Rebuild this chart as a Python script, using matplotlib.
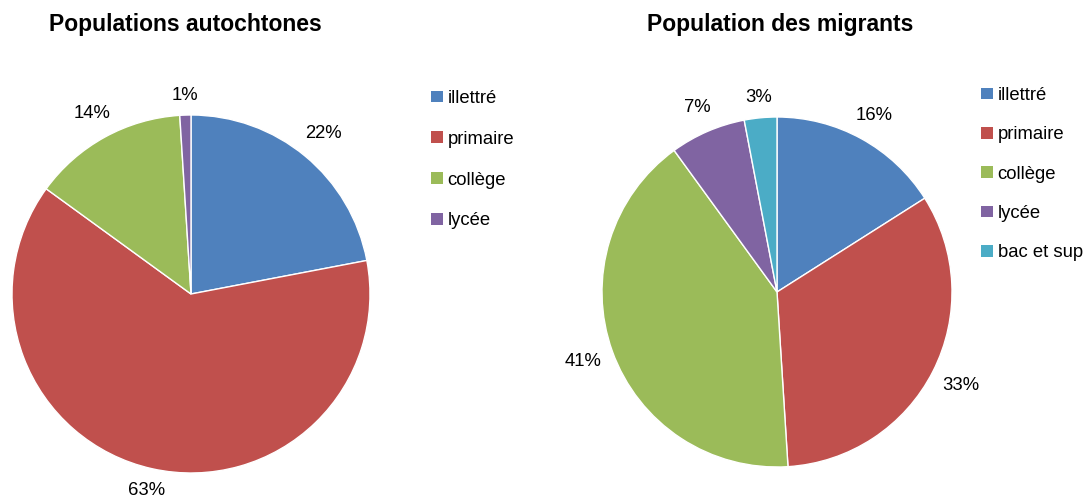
import numpy as np
import matplotlib
matplotlib.use('Agg')
import matplotlib.pyplot as plt
from matplotlib.patches import Patch

plt.rcParams['font.family'] = ['Liberation Sans', 'DejaVu Sans']

COLORS = ['#4F81BD', '#C0504D', '#9BBB59', '#8064A2', '#4BACC6']

# data
auto_labels = ['illettré', 'primaire', 'collège', 'lycée']
auto_values = [22, 63, 14, 1]
migr_labels = ['illettré', 'primaire', 'collège', 'lycée', 'bac et sup']
migr_values = [16, 33, 41, 7, 3]

W, H = 1083, 496
fig = plt.figure(figsize=(W / 100, H / 100), dpi=100)


def pie_axes(cx, cy, r):
    # cx, cy, r in pixels (y from top)
    return fig.add_axes([(cx - r) / W, (H - cy - r) / H, 2 * r / W, 2 * r / H])


def draw(ax, r_px, values, labels, title, title_xy, leg_xy, leg_space):
    wedges, _, autotexts = ax.pie(values, colors=COLORS[:len(values)], startangle=90,
                                  counterclock=False, autopct='%1.0f%%', radius=1,
                                  textprops={'fontsize': 13.3, 'color': '#000000'},
                                  wedgeprops={'linewidth': 1.0, 'edgecolor': 'white'})
    # place labels just outside the rim, like Excel's "outside end"
    for w, t in zip(wedges, autotexts):
        a = np.deg2rad((w.theta1 + w.theta2) / 2)
        c, s = np.cos(a), np.sin(a)
        d = (r_px + 12 + 18 * abs(c) + 7 * abs(s)) / r_px
        t.set_position((d * c, d * s))
        t.set_ha('center'); t.set_va('center')
    ax.set_xlim(-1, 1); ax.set_ylim(-1, 1)
    ax.set_aspect('equal')
    fig.text(title_xy[0] / W, 1 - title_xy[1] / H, title, ha='center', va='center',
             fontsize=16.5, fontweight='bold')
    handles = [Patch(facecolor=COLORS[i], edgecolor='none', label=l) for i, l in enumerate(labels)]
    fig.legend(handles=handles, loc='upper left',
               bbox_to_anchor=(leg_xy[0] / W, 1 - leg_xy[1] / H),
               frameon=False, fontsize=13.3, handlelength=0.65, handleheight=0.6,
               handletextpad=0.25, labelspacing=leg_space, borderaxespad=0, borderpad=0)


ax1 = pie_axes(191, 294, 179)
draw(ax1, 179, auto_values, auto_labels, 'Populations autochtones', (185, 25), (431, 90), 1.29)

ax2 = pie_axes(777, 292, 175)
draw(ax2, 175, migr_values, migr_labels, 'Population des migrants', (780, 25), (981, 87), 1.21)

fig.savefig('out.png', dpi=100)
